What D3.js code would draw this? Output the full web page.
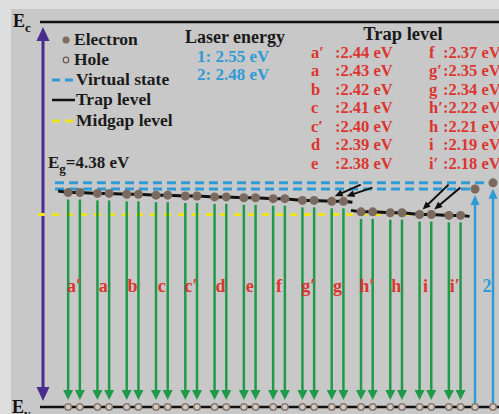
<!DOCTYPE html>
<html>
<head>
<meta charset="utf-8">
<script src="https://cdn.jsdelivr.net/npm/d3@7"></script>
<style>
  body { margin: 0; background: #fff; }
  svg { display: block; }
  text { font-family: "Liberation Serif", "Times New Roman", serif; font-weight: bold; }
</style>
</head>
<body>
<script>
// band gap and levels (eV)
var bandGap = 4.38;
var midgap = 2.19;
var trapLabels = ["a′", "a", "b", "c", "c′", "d", "e", "f", "g′", "g", "h′", "h", "i", "i′"];
var trapEnergies = [2.44, 2.43, 2.42, 2.41, 2.40, 2.39, 2.38, 2.37, 2.35, 2.34, 2.22, 2.21, 2.19, 2.18];
var trapSegments = [["a′", "g"], ["h′", "i′"]];
var laserLabels = ["1", "2"];
var laserEnergies = [2.55, 2.48];
var relaxTargets = ["g", "i"];
var relaxFrom = [2.53, 2.53];
var legendItems = ["Electron", "Hole", "Virtual state", "Trap level", "Midgap level"];

var W = 499, H = 414;
var red = "#dc352f", blue = "#2f9bd6", green = "#1f9a4a", brown = "#7b6a5f", purple = "#4b2b8c";

var svg = d3.select("body").append("svg").attr("width", W).attr("height", H);
svg.append("rect").attr("width", W).attr("height", H).attr("fill", "#dedede");
svg.append("rect").attr("x", 11).attr("y", 9).attr("width", W).attr("height", H).attr("fill", "#c8c8c8");

var y = d3.scaleLinear().domain([0, bandGap]).range([407, 22]);
var x = d3.scalePoint().domain(trapLabels.concat(["laser"])).range([74, 484]);
var half = 5.85, laserHalf = 9;

function head(x1, y1, x2, y2, len, w) {
  var a = Math.atan2(y2 - y1, x2 - x1);
  var bx = x2 - len * Math.cos(a), by = y2 - len * Math.sin(a);
  var px = -Math.sin(a) * w / 2, py = Math.cos(a) * w / 2;
  return "M" + x2 + "," + y2 + "L" + (bx + px) + "," + (by + py) + "L" + (bx - px) + "," + (by - py) + "Z";
}
function arrow(g, x1, y1, x2, y2, color, sw, len, w) {
  var a = Math.atan2(y2 - y1, x2 - x1);
  g.append("line").attr("x1", x1).attr("y1", y1)
    .attr("x2", x2 - (len - 1) * Math.cos(a)).attr("y2", y2 - (len - 1) * Math.sin(a))
    .attr("stroke", color).attr("stroke-width", sw);
  g.append("path").attr("d", head(x1, y1, x2, y2, len, w)).attr("fill", color);
}

// trap dots (two per level)
var traps = trapLabels.map(function (l, i) { return { label: l, e: trapEnergies[i] }; });
var dots = [];
traps.forEach(function (t) {
  dots.push({ label: t.label, x: x(t.label) - half, y: y(t.e) });
  dots.push({ label: t.label, x: x(t.label) + half, y: y(t.e) });
});
var lasers = laserLabels.map(function (l, i) {
  return { label: l, e: laserEnergies[i], x: x("laser") + (i === 0 ? laserHalf : -laserHalf), y: y(laserEnergies[i]) };
});

// Ec / Ev lines
svg.append("line").attr("x1", 40).attr("x2", W).attr("y1", y(bandGap)).attr("y2", y(bandGap))
  .attr("stroke", "#111").attr("stroke-width", 2.5);
svg.append("line").attr("x1", 40).attr("x2", W).attr("y1", y(0)).attr("y2", y(0))
  .attr("stroke", "#111").attr("stroke-width", 2.5);

var ec = svg.append("text").attr("x", 13).attr("y", 27).attr("font-size", 18).attr("fill", "#111");
ec.append("tspan").text("E");
ec.append("tspan").attr("font-size", 13).attr("dy", 5).text("c");
var ev = svg.append("text").attr("x", 12).attr("y", 413).attr("font-size", 18).attr("fill", "#111");
ev.append("tspan").text("E");
ev.append("tspan").attr("font-size", 13).attr("dy", 5).text("v");

// band gap arrow
var pg = svg.append("g");
pg.append("line").attr("x1", 43).attr("x2", 43).attr("y1", y(bandGap) + 16).attr("y2", y(0) - 18)
  .attr("stroke", purple).attr("stroke-width", 3);
pg.append("path").attr("d", head(43, 200, 43, y(bandGap) + 5, 14, 13)).attr("fill", purple);
pg.append("path").attr("d", head(43, 200, 43, y(0) - 6, 14, 13)).attr("fill", purple);

// virtual states
lasers.forEach(function (d) {
  svg.append("line").attr("x1", 55).attr("x2", d.x).attr("y1", d.y).attr("y2", d.y)
    .attr("stroke", blue).attr("stroke-width", 3).attr("stroke-dasharray", "9,5");
});
// midgap
svg.append("line").attr("x1", 38).attr("x2", 468).attr("y1", y(midgap)).attr("y2", y(midgap))
  .attr("stroke", "#f2e41c").attr("stroke-width", 3).attr("stroke-dasharray", "7,7");

// trap level lines
var line = d3.line().x(function (d) { return d.x; }).y(function (d) { return d.y; });
trapSegments.forEach(function (s) {
  var i0 = trapLabels.indexOf(s[0]), i1 = trapLabels.indexOf(s[1]);
  var pts = dots.slice(i0 * 2, i1 * 2 + 2);
  var first = pts[0], last = pts[pts.length - 1];
  pts = [{ x: first.x - 10, y: first.y - 1.5 }].concat(pts, [{ x: last.x + 9, y: last.y + 1 }]);
  svg.append("path").attr("d", line(pts)).attr("fill", "none").attr("stroke", "#111").attr("stroke-width", 3);
});

// recombination arrows
var ga = svg.append("g");
dots.forEach(function (d) {
  arrow(ga, d.x, d.y + 7, d.x, y(0) - 7, green, 2.5, 10, 10);
});

// laser arrows
var ba = svg.append("g");
lasers.forEach(function (d) {
  arrow(ba, d.x, y(0) - 2, d.x, d.y + 6, blue, 2.5, 10, 9);
});

// relaxation arrows
var ka = svg.append("g");
relaxTargets.forEach(function (t, k) {
  dots.filter(function (d) { return d.label === t; }).forEach(function (d, j) {
    arrow(ka, d.x + 29, y(relaxFrom[k]) + j * 3, d.x + 3, d.y - 5, "#111", 2, 8, 7);
  });
});

// electrons & holes
svg.selectAll("circle.e").data(dots.concat(lasers)).enter().append("circle")
  .attr("cx", function (d) { return d.x; }).attr("cy", function (d) { return d.y; })
  .attr("r", 4.5).attr("fill", brown);
svg.selectAll("circle.h").data(dots.concat(lasers)).enter().append("circle")
  .attr("cx", function (d) { return d.x; }).attr("cy", y(0))
  .attr("r", 3.2).attr("fill", "#d2cac3").attr("stroke", "#8a7a6f").attr("stroke-width", 1.5);

// level labels
svg.selectAll("text.lv").data(traps).enter().append("text")
  .attr("x", function (d) { return x(d.label); }).attr("y", 292)
  .attr("text-anchor", "middle").attr("font-size", 18).attr("fill", red)
  .text(function (d) { return d.label; });
svg.selectAll("text.lz").data(lasers).enter().append("text")
  .attr("x", function (d) { return d.x + 12; }).attr("y", 292)
  .attr("text-anchor", "middle").attr("font-size", 18).attr("fill", blue)
  .text(function (d) { return d.label; });

// legend
var ly = [40, 60, 80, 100, 121];
legendItems.forEach(function (name, i) {
  var yy = ly[i];
  if (i === 0) svg.append("circle").attr("cx", 66).attr("cy", yy).attr("r", 3.5).attr("fill", brown);
  if (i === 1) svg.append("circle").attr("cx", 66).attr("cy", yy).attr("r", 2.8).attr("fill", "#d2cac3")
    .attr("stroke", "#6e5f55").attr("stroke-width", 1.3);
  if (i === 2 || i === 4) svg.append("line").attr("x1", 52).attr("x2", 73).attr("y1", yy).attr("y2", yy)
    .attr("stroke", i === 2 ? blue : "#f2e41c").attr("stroke-width", 3).attr("stroke-dasharray", "8,5");
  if (i === 3) svg.append("line").attr("x1", 52).attr("x2", 75).attr("y1", yy).attr("y2", yy)
    .attr("stroke", "#111").attr("stroke-width", 2.5);
  svg.append("text").attr("x", i < 2 ? 74 : 76).attr("y", yy + 5).attr("font-size", 17.5)
    .attr("fill", "#1a1a1a").text(name);
});
var eg = svg.append("text").attr("x", 48).attr("y", 168).attr("font-size", 17).attr("fill", "#1a1a1a");
eg.append("tspan").text("E");
eg.append("tspan").attr("font-size", 13).attr("dy", 5).text("g");
eg.append("tspan").attr("dy", -5).text("=" + bandGap.toFixed(2) + " eV");

// laser energy box
svg.append("text").attr("x", 235).attr("y", 43).attr("text-anchor", "middle").attr("font-size", 18)
  .attr("fill", "#1a1a1a").text("Laser energy");
lasers.forEach(function (d, i) {
  svg.append("text").attr("x", 197).attr("y", 62 + i * 18).attr("font-size", 17).attr("fill", blue)
    .text(d.label + ": " + d.e.toFixed(2) + " eV");
});

// trap level table
svg.append("text").attr("x", 403).attr("y", 40).attr("text-anchor", "middle").attr("font-size", 18.5)
  .attr("fill", "#1a1a1a").text("Trap level");
traps.forEach(function (d, i) {
  var col = i < 7 ? 0 : 1, row = i % 7;
  var yy = 57.5 + row * 18.5;
  svg.append("text").attr("x", col ? 429 : 311).attr("y", yy).attr("font-size", 16.5).attr("fill", red).text(d.label);
  svg.append("text").attr("x", col ? 443 : 335).attr("y", yy).attr("font-size", 16.5).attr("fill", red)
    .text(":" + d.e.toFixed(2) + " eV");
});
</script>
</body>
</html>
